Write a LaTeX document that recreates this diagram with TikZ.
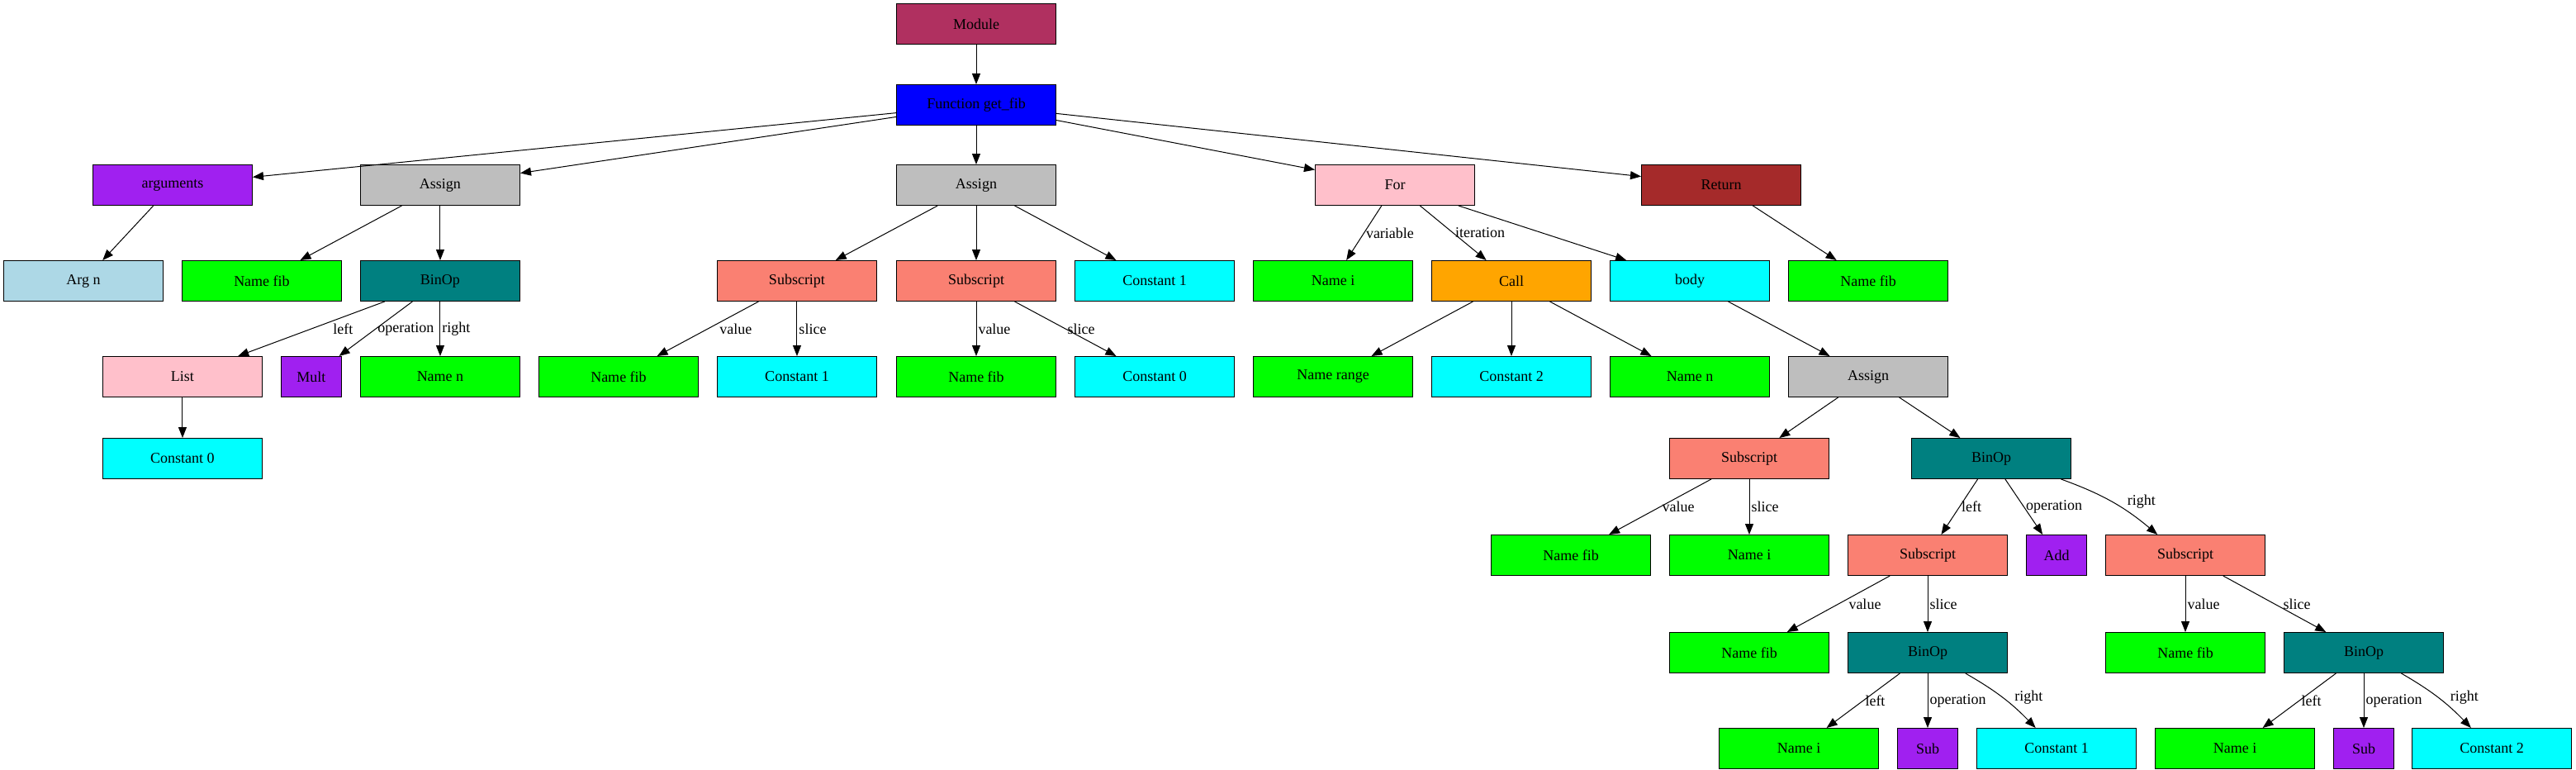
\documentclass[tikz,border=0pt]{standalone}
\usepackage{fontspec}
\setmainfont{Liberation Serif}
\usetikzlibrary{arrows.meta,positioning}

\definecolor{gvmaroon}{HTML}{B03060}
\definecolor{gvblue}{HTML}{0000FF}
\definecolor{gvpurple}{HTML}{A020F0}
\definecolor{gvgray}{HTML}{BEBEBE}
\definecolor{gvlightblue}{HTML}{ADD8E6}
\definecolor{gvgreen}{HTML}{00FF00}
\definecolor{gvteal}{HTML}{008080}
\definecolor{gvpink}{HTML}{FFC0CB}
\definecolor{gvsalmon}{HTML}{FA8072}
\definecolor{gvcyan}{HTML}{00FFFF}
\definecolor{gvorange}{HTML}{FFA500}
\definecolor{gvbrown}{HTML}{A52A2A}

\tikzstyle{block} = [draw, rectangle, minimum height=24.5pt, minimum width=96.5pt, inner sep=0pt]
\tikzstyle{modbox} = [block, fill=gvmaroon]
\tikzstyle{funcbox} = [block, fill=gvblue]
\tikzstyle{argsbox} = [block, fill=gvpurple]
\tikzstyle{argbox} = [block, fill=gvlightblue]
\tikzstyle{assignbox} = [block, fill=gvgray]
\tikzstyle{namebox} = [block, fill=gvgreen]
\tikzstyle{binopbox} = [block, fill=gvteal]
\tikzstyle{listbox} = [block, fill=gvpink]
\tikzstyle{opbox} = [block, minimum width=36.5pt, fill=gvpurple]
\tikzstyle{subbox} = [block, fill=gvsalmon]
\tikzstyle{constbox} = [block, fill=gvcyan]
\tikzstyle{forbox} = [block, fill=gvpink]
\tikzstyle{callbox} = [block, fill=gvorange]
\tikzstyle{bodybox} = [block, fill=gvcyan]
\tikzstyle{retbox} = [block, fill=gvbrown]
\tikzstyle{elabel} = [right, inner sep=1pt]

\begin{document}
\begin{tikzpicture}[>={Triangle[length=6.5pt,width=5pt]},line width=0.5pt,font=\fontsize{9}{10}\selectfont]
\useasboundingbox (-591pt,14.5pt) rectangle (968.5pt,-451pt);

\node[modbox] (mod) {Module};
\node[funcbox,below of=mod,node distance=49pt] (func) {Function get\_fib};
\node[assignbox,below of=func,node distance=48.5pt] (asgB) {Assign};
\node[assignbox,left of=asgB,node distance=324.5pt] (asgA) {Assign};
\node[argsbox,left of=asgA,node distance=162pt] (args) {arguments};
\node[forbox,right of=asgB,node distance=253.5pt] (for) {For};
\node[retbox,right of=for,node distance=197.5pt] (ret) {Return};

\node[binopbox,below of=asgA,node distance=58pt] (binA) {BinOp};
\node[namebox,left of=binA,node distance=108pt] (fibA) {Name fib};
\node[argbox,left of=fibA,node distance=108pt] (argn) {Arg n};
\node[subbox,below of=asgB,node distance=58pt] (subB) {Subscript};
\node[subbox,left of=subB,node distance=108.5pt] (subA) {Subscript};
\node[constbox,right of=subB,node distance=108pt] (oneA) {Constant 1};
\node[namebox,right of=oneA,node distance=108pt] (iA) {Name i};
\node[callbox,right of=iA,node distance=108pt] (call) {Call};
\node[bodybox,right of=call,node distance=108pt] (body) {body};
\node[namebox,right of=body,node distance=108pt] (fibR) {Name fib};

\node[namebox,below of=binA,node distance=58pt] (nA) {Name n};
\node[opbox,left of=nA,node distance=78pt] (mult) {Mult};
\node[listbox,left of=mult,node distance=78pt] (list) {List};
\node[namebox,right of=nA,node distance=108pt] (fibB) {Name fib};
\node[constbox,below of=subA,node distance=58pt] (oneB) {Constant 1};
\node[namebox,below of=subB,node distance=58pt] (fibC) {Name fib};
\node[constbox,below of=oneA,node distance=58pt] (zeroA) {Constant 0};
\node[namebox,below of=iA,node distance=58pt] (range) {Name range};
\node[constbox,below of=call,node distance=58pt] (twoA) {Constant 2};
\node[namebox,below of=body,node distance=58pt] (nB) {Name n};
\node[assignbox,below of=fibR,node distance=58pt] (asgC) {Assign};

\node[constbox,below of=list,node distance=49.5pt] (zeroB) {Constant 0};
\node[subbox,below of=asgC,node distance=49.5pt,xshift=-72pt] (subC) {Subscript};
\node[binopbox,right of=subC,node distance=146.5pt] (binB) {BinOp};

\node[namebox,below of=subC,node distance=58.5pt] (iB) {Name i};
\node[namebox,left of=iB,node distance=108pt] (fibD) {Name fib};
\node[subbox,right of=iB,node distance=108pt] (subD) {Subscript};
\node[opbox,right of=subD,node distance=78pt] (add) {Add};
\node[subbox,right of=add,node distance=78pt] (subE) {Subscript};

\node[binopbox,below of=subD,node distance=59pt] (binC) {BinOp};
\node[namebox,left of=binC,node distance=108pt] (fibE) {Name fib};
\node[namebox,below of=subE,node distance=59pt] (fibF) {Name fib};
\node[binopbox,right of=fibF,node distance=108pt] (binD) {BinOp};

\node[opbox,below of=binC,node distance=58pt] (subOpA) {Sub};
\node[namebox,left of=subOpA,node distance=78pt] (iC) {Name i};
\node[constbox,right of=subOpA,node distance=78pt] (oneC) {Constant 1};
\node[namebox,right of=oneC,node distance=108pt] (iD) {Name i};
\node[opbox,below of=binD,node distance=58pt] (subOpB) {Sub};
\node[constbox,right of=subOpB,node distance=77.5pt] (twoB) {Constant 2};

\draw[->] (mod) -- (func);
\draw[->] (func) -- (args);
\draw[->] (func) -- (asgA);
\draw[->] (func) -- (asgB);
\draw[->] (func) -- (for);
\draw[->] (func) -- (ret);

\draw[->] (args) -- (argn);
\draw[->] (asgA) -- (fibA);
\draw[->] (asgA) -- (binA);
\draw[->] (binA) -- node[elabel,xshift=12pt]{left} (list);
\draw[->] (binA) -- node[elabel]{operation} (mult);
\draw[->] (binA) -- node[elabel]{right} (nA);
\draw[->] (list) -- (zeroB);

\draw[->] (asgB) -- (subA);
\draw[->] (asgB) -- (subB);
\draw[->] (asgB) -- (oneA);
\draw[->] (subA) -- node[elabel,xshift=6pt]{value} (fibB);
\draw[->] (subA) -- node[elabel]{slice} (oneB);
\draw[->] (subB) -- node[elabel]{value} (fibC);
\draw[->] (subB) -- node[elabel]{slice} (zeroA);

\draw[->] (for) -- node[elabel]{variable} (iA);
\draw[->] (for) -- node[elabel]{iteration} (call);
\draw[->] (for) -- (body);
\draw[->] (call) -- (range);
\draw[->] (call) -- (twoA);
\draw[->] (call) -- (nB);
\draw[->] (body) -- (asgC);
\draw[->] (ret) -- (fibR);

\draw[->] (asgC) -- (subC);
\draw[->] (asgC) -- (binB);
\draw[->] (subC) -- node[elabel]{value} (fibD);
\draw[->] (subC) -- node[elabel]{slice} (iB);
\draw[->] (binB) -- node[elabel]{left} (subD);
\draw[->] (binB) -- node[elabel]{operation} (add);
\draw[->] (binB) to[bend left=10] node[elabel,xshift=8pt]{right} (subE);

\draw[->] (subD) -- node[elabel,xshift=5pt]{value} (fibE);
\draw[->] (subD) -- node[elabel]{slice} (binC);
\draw[->] (subE) -- node[elabel]{value} (fibF);
\draw[->] (subE) -- node[elabel,xshift=4pt]{slice} (binD);

\draw[->] (binC) -- node[elabel]{left} (iC);
\draw[->] (binC) -- node[elabel]{operation} (subOpA);
\draw[->] (binC) to[bend left=8] node[elabel,xshift=6pt]{right} (oneC);
\draw[->] (binD) -- node[elabel]{left} (iD);
\draw[->] (binD) -- node[elabel]{operation} (subOpB);
\draw[->] (binD) to[bend left=8] node[elabel,xshift=6pt]{right} (twoB);

\end{tikzpicture}
\end{document}
